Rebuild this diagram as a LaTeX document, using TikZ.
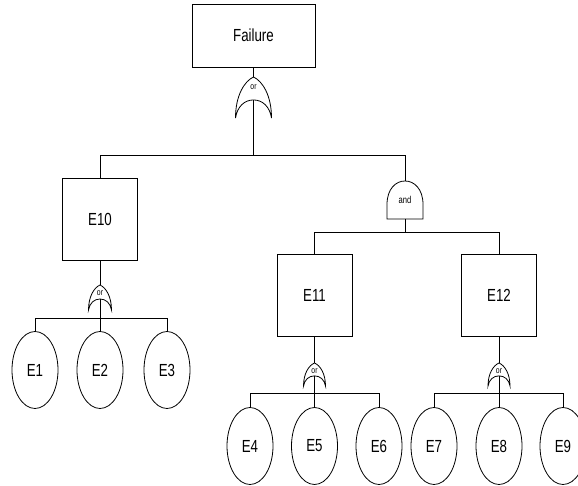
\documentclass[tikz,border=0pt]{standalone}
\usepackage{fontspec}
\setmainfont{Liberation Sans}
\usetikzlibrary{shapes.geometric}

% condensed text for all labels
\newcommand\nt[1]{\scalebox{0.76}[1]{#1}}

\tikzset{
  wire/.style={line width=0.8pt},
  evbox/.style={draw, rectangle, line width=0.8pt, inner sep=0pt,
    minimum width=75pt, minimum height=82pt, font=\fontsize{17.5}{20}\selectfont},
  topbox/.style={evbox, minimum width=123pt, minimum height=63pt},
  basic/.style={draw, ellipse, line width=0.8pt, inner sep=0pt,
    minimum width=46pt, minimum height=77pt, font=\fontsize{17.5}{20}\selectfont},
  gatelbl/.style={inner sep=0pt, font=\fontsize{9}{10}\selectfont},
}

% OR gate: #1 name, #2 centre x, #3 apex y, #4 width, #5 height, #6 label height (fraction)
\newcommand\orgate[6]{%
  \begin{scope}[shift={(#2,#3)}, xscale=#4, yscale=#5]
    \draw[wire] (-0.5,1) .. controls (-0.5,0.45) and (-0.25,0.1) .. (0,0)
      .. controls (0.25,0.1) and (0.5,0.45) .. (0.5,1)
      .. controls (0.45,0.72) and (0.25,0.56) .. (0,0.56)
      .. controls (-0.25,0.56) and (-0.45,0.72) .. (-0.5,1) -- cycle;
    \coordinate (#1t) at (0,0);
    \coordinate (#1i) at (0,0.56);
    \node[gatelbl] (#1l) at (0,#6) {\nt{or}};
  \end{scope}}

% AND gate: #1 name, #2 centre x, #3 apex y, #4 width, #5 height
\newcommand\andgate[5]{%
  \begin{scope}[shift={(#2,#3)}, xscale=#4, yscale=#5]
    \draw[wire] (-0.5,1) -- (-0.5,0.62)
      .. controls (-0.5,0.2) and (-0.25,0) .. (0,0)
      .. controls (0.25,0) and (0.5,0.2) .. (0.5,0.62) -- (0.5,1) -- cycle;
    \coordinate (#1t) at (0,0);
    \coordinate (#1b) at (0,1);
    \node[gatelbl, font=\fontsize{10}{11}\selectfont] (#1l) at (0,0.5) {\nt{and}};
  \end{scope}}

\begin{document}
\begin{tikzpicture}[x=1pt, y=-1pt]
  \useasboundingbox (0,0) rectangle (578,486);

  % events
  \node[topbox] (fail) at (253.5,35.5) {\nt{Failure}};
  \node[evbox] (e10) at (100,219.5) {\nt{E10}};
  \node[evbox] (e11) at (314.5,295.5) {\nt{E11}};
  \node[evbox] (e12) at (499,295.5) {\nt{E12}};

  % basic events
  \node[basic] (e1) at (35,370) {\nt{E1}};
  \node[basic] (e2) at (100,370) {\nt{E2}};
  \node[basic] (e3) at (167,370) {\nt{E3}};
  \node[basic] (e4) at (250,446) {\nt{E4}};
  \node[basic] (e5) at (314.5,446) {\nt{E5}};
  \node[basic] (e6) at (379,446) {\nt{E6}};
  \node[basic] (e7) at (434,446) {\nt{E7}};
  \node[basic] (e8) at (499,446) {\nt{E8}};
  \node[basic] (e9) at (563,446) {\nt{E9}};

  % gates
  \orgate{g0}{253.5}{77}{36}{41}{0.25}
  \andgate{ga}{405}{181}{36}{38}
  \orgate{g10}{100}{285}{23}{25}{0.34}
  \orgate{g11}{314.5}{363}{22}{23}{0.34}
  \orgate{g12}{499}{363}{22}{23}{0.34}

  % branch points
  \coordinate (b0) at (253.5,155);
  \coordinate (ba) at (405,232);
  \coordinate (b10) at (100,318);
  \coordinate (b11) at (314.5,393);
  \coordinate (b12) at (499,393);

  % connectors
  \draw[wire] (fail.south) -- (g0t);
  \draw[wire] (g0i) -- (b0);
  \draw[wire] (b0) -| (e10.north);
  \draw[wire] (b0) -| (gat);

  \draw[wire] (gab) -- (ba);
  \draw[wire] (ba) -| (e11.north);
  \draw[wire] (ba) -| (e12.north);

  \draw[wire] (e10.south) -- (g10t);
  \draw[wire] (g10i) -- (b10);
  \draw[wire] (b10) -| (e1.north);
  \draw[wire] (b10) -- (e2.north);
  \draw[wire] (b10) -| (e3.north);

  \draw[wire] (e11.south) -- (g11t);
  \draw[wire] (g11i) -- (b11);
  \draw[wire] (b11) -| (e4.north);
  \draw[wire] (b11) -- (e5.north);
  \draw[wire] (b11) -| (e6.north);

  \draw[wire] (e12.south) -- (g12t);
  \draw[wire] (g12i) -- (b12);
  \draw[wire] (b12) -| (e7.north);
  \draw[wire] (b12) -- (e8.north);
  \draw[wire] (b12) -| (e9.north);
\end{tikzpicture}
\end{document}
